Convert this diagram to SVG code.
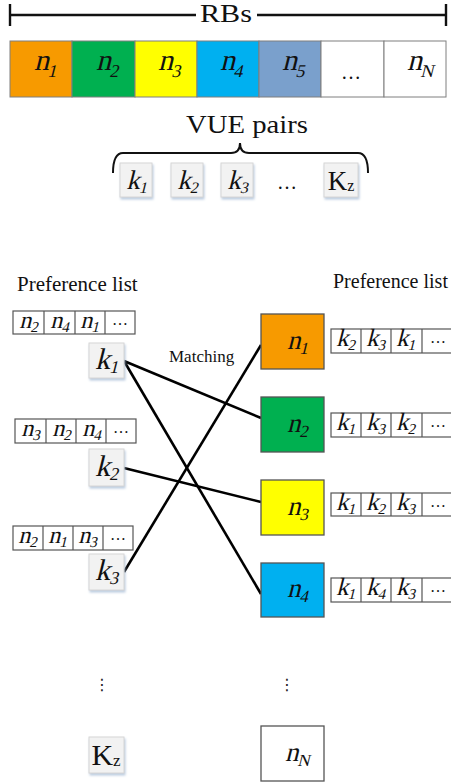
<svg xmlns="http://www.w3.org/2000/svg" width="451" height="783" viewBox="0 0 451 783">
  <defs>
    <filter id="shadow" x="-20%" y="-20%" width="150%" height="150%">
      <feDropShadow dx="1" dy="2" stdDeviation="1" flood-color="#9fb6d2" flood-opacity="0.7"/>
    </filter>
  </defs>
  <style>
    .lbl { font-family: "Liberation Serif", "Times New Roman", serif; fill: #111; }
    /* math-style labels: serif glyphs slanted by a skew transform */
    .m { font-family: "Liberation Serif", "Times New Roman", serif; fill: #111; text-anchor: middle; }
    .cell { stroke: #7f7f7f; stroke-width: 1; }
    .lst { fill: #fff; stroke: #555; stroke-width: 1.2; }
    .kbox { fill: #f2f2f2; stroke: #d6d6d6; stroke-width: 1; filter: url(#shadow); }
    .nbox { stroke: #555; stroke-width: 1.3; }
    .conn { stroke: #000; stroke-width: 2.6; fill: none; }
    .dots { font-family: "DejaVu Sans", sans-serif; fill: #222; text-anchor: middle; }
  </style>

  <!-- RB span ruler -->
  <g id="rbs-ruler" stroke="#111" stroke-width="2.4">
    <line x1="10" y1="15" x2="196" y2="15"/>
    <line x1="257" y1="15" x2="446" y2="15"/>
    <line x1="10" y1="4" x2="10" y2="26"/>
    <line x1="446" y1="4" x2="446" y2="26"/>
  </g>
  <text class="lbl" x="200" y="22" font-size="25" textLength="52" lengthAdjust="spacingAndGlyphs">RBs</text>

  <!-- resource block strip -->
  <g id="rb-strip">
    <rect class="cell" x="10" y="41" width="62" height="56" fill="#F79A00"/>
    <rect class="cell" x="72" y="41" width="63" height="56" fill="#00B050"/>
    <rect class="cell" x="135" y="41" width="62" height="56" fill="#FFFF00"/>
    <rect class="cell" x="197" y="41" width="62" height="56" fill="#00B0F0"/>
    <rect class="cell" x="259" y="41" width="62" height="56" fill="#7AA0CC"/>
    <rect class="cell" x="321" y="41" width="63" height="56" fill="#fff"/>
    <rect class="cell" x="384" y="41" width="62" height="56" fill="#fff"/>
    <text class="m" transform="translate(46 70) skewX(-14)" font-size="30">n<tspan font-size="18" dy="7">1</tspan></text>
    <text class="m" transform="translate(108 70) skewX(-14)" font-size="30">n<tspan font-size="18" dy="7">2</tspan></text>
    <text class="m" transform="translate(170 70) skewX(-14)" font-size="30">n<tspan font-size="18" dy="7">3</tspan></text>
    <text class="m" transform="translate(232 70) skewX(-14)" font-size="30">n<tspan font-size="18" dy="7">4</tspan></text>
    <text class="m" transform="translate(294 70) skewX(-14)" font-size="30">n<tspan font-size="18" dy="7">5</tspan></text>
    <text class="lbl" x="351" y="79" font-size="20" text-anchor="middle">…</text>
    <text class="m" transform="translate(421 70) skewX(-14)" font-size="30">n<tspan font-size="18" dy="7">N</tspan></text>
  </g>

  <!-- VUE pairs brace -->
  <g id="vue-pairs">
    <text class="lbl" x="186" y="133" font-size="25" textLength="122" lengthAdjust="spacingAndGlyphs">VUE pairs</text>
    <path d="M113,173 Q113,153 123,153 L231,153 Q240,153 240,143 Q240,153 249,153 L358,153 Q368,153 368,173" stroke="#111" stroke-width="2" fill="none"/>
    <rect class="kbox" x="120" y="163" width="32" height="34"/>
    <rect class="kbox" x="171" y="163" width="32" height="34"/>
    <rect class="kbox" x="221" y="163" width="32" height="34"/>
    <rect class="kbox" x="324" y="163" width="34" height="34"/>
    <text class="m" transform="translate(137 189) skewX(-14)" font-size="27">k<tspan font-size="16" dy="4">1</tspan></text>
    <text class="m" transform="translate(188 189) skewX(-14)" font-size="27">k<tspan font-size="16" dy="4">2</tspan></text>
    <text class="m" transform="translate(238 189) skewX(-14)" font-size="27">k<tspan font-size="16" dy="4">3</tspan></text>
    <text class="lbl" x="287" y="189" font-size="20" text-anchor="middle">…</text>
    <text class="lbl" x="341" y="190" font-size="27" text-anchor="middle">K<tspan font-size="16" dy="1">z</tspan></text>
  </g>

  <!-- section headings -->
  <text class="lbl" x="17" y="291" font-size="21">Preference list</text>
  <text class="lbl" x="333" y="288" font-size="20">Preference list</text>
  <text class="lbl" x="169" y="362" font-size="17">Matching</text>

  <!-- matching connectors -->
  <g id="connectors">
    <line class="conn" x1="124" y1="361" x2="261" y2="418"/>
    <line class="conn" x1="124" y1="361" x2="261" y2="594"/>
    <line class="conn" x1="124" y1="468" x2="261" y2="502"/>
    <line class="conn" x1="124" y1="572" x2="261" y2="345"/>
  </g>

  <!-- VUE pair k1 with its preference list -->
  <g id="k1">
    <rect class="lst" x="13" y="311" width="122" height="23"/>
    <path d="M44,311V334M75,311V334M105,311V334" stroke="#555" stroke-width="1.2"/>
    <text class="m" transform="translate(29 328) skewX(-14)" font-size="24">n<tspan font-size="15" dy="4">2</tspan></text>
    <text class="m" transform="translate(60 328) skewX(-14)" font-size="24">n<tspan font-size="15" dy="4">4</tspan></text>
    <text class="m" transform="translate(90 328) skewX(-14)" font-size="24">n<tspan font-size="15" dy="4">1</tspan></text>
    <text class="lbl" x="120" y="325" font-size="16" text-anchor="middle">…</text>
    <rect class="kbox" x="89" y="343" width="35" height="35"/>
    <text class="m" transform="translate(107 369) skewX(-14)" font-size="30">k<tspan font-size="18" dy="4">1</tspan></text>
  </g>

  <!-- VUE pair k2 -->
  <g id="k2">
    <rect class="lst" x="15" y="419" width="121" height="24"/>
    <path d="M46,419V443M76,419V443M106,419V443" stroke="#555" stroke-width="1.2"/>
    <text class="m" transform="translate(31 436) skewX(-14)" font-size="24">n<tspan font-size="15" dy="4">3</tspan></text>
    <text class="m" transform="translate(62 436) skewX(-14)" font-size="24">n<tspan font-size="15" dy="4">2</tspan></text>
    <text class="m" transform="translate(92 436) skewX(-14)" font-size="24">n<tspan font-size="15" dy="4">4</tspan></text>
    <text class="lbl" x="121" y="433" font-size="16" text-anchor="middle">…</text>
    <rect class="kbox" x="89" y="449" width="35" height="37"/>
    <text class="m" transform="translate(107 476) skewX(-14)" font-size="30">k<tspan font-size="18" dy="4">2</tspan></text>
  </g>

  <!-- VUE pair k3 -->
  <g id="k3">
    <rect class="lst" x="13" y="526" width="120" height="24"/>
    <path d="M43,526V550M73,526V550M103,526V550" stroke="#555" stroke-width="1.2"/>
    <text class="m" transform="translate(28 543) skewX(-14)" font-size="24">n<tspan font-size="15" dy="4">2</tspan></text>
    <text class="m" transform="translate(58 543) skewX(-14)" font-size="24">n<tspan font-size="15" dy="4">1</tspan></text>
    <text class="m" transform="translate(88 543) skewX(-14)" font-size="24">n<tspan font-size="15" dy="4">3</tspan></text>
    <text class="lbl" x="118" y="540" font-size="16" text-anchor="middle">…</text>
    <rect class="kbox" x="89" y="554" width="35" height="36"/>
    <text class="m" transform="translate(107 580) skewX(-14)" font-size="30">k<tspan font-size="18" dy="4">3</tspan></text>
  </g>

  <!-- VUE pair Kz -->
  <g id="kz">
    <text class="dots" x="102" y="690" font-size="16">⋮</text>
    <rect class="kbox" x="89" y="737" width="35" height="36"/>
    <text class="lbl" x="106" y="765" font-size="30" text-anchor="middle">K<tspan font-size="17" dy="1">z</tspan></text>
  </g>

  <!-- RB n1 with its preference list -->
  <g id="n1">
    <rect class="nbox" x="261" y="314" width="63" height="55" fill="#F79A00"/>
    <text class="m" transform="translate(298 349) skewX(-14)" font-size="27">n<tspan font-size="17" dy="5">1</tspan></text>
    <rect class="lst" x="331" y="329" width="125" height="24"/>
    <path d="M361,329V353M391,329V353M422,329V353" stroke="#555" stroke-width="1.2"/>
    <text class="m" transform="translate(346 346) skewX(-14)" font-size="25">k<tspan font-size="15" dy="4">2</tspan></text>
    <text class="m" transform="translate(376 346) skewX(-14)" font-size="25">k<tspan font-size="15" dy="4">3</tspan></text>
    <text class="m" transform="translate(406 346) skewX(-14)" font-size="25">k<tspan font-size="15" dy="4">1</tspan></text>
    <text class="lbl" x="438" y="343" font-size="16" text-anchor="middle">…</text>
  </g>

  <!-- RB n2 -->
  <g id="n2">
    <rect class="nbox" x="261" y="397" width="63" height="55" fill="#00B050"/>
    <text class="m" transform="translate(298 432) skewX(-14)" font-size="27">n<tspan font-size="17" dy="5">2</tspan></text>
    <rect class="lst" x="331" y="413" width="125" height="24"/>
    <path d="M361,413V437M391,413V437M422,413V437" stroke="#555" stroke-width="1.2"/>
    <text class="m" transform="translate(346 430) skewX(-14)" font-size="25">k<tspan font-size="15" dy="4">1</tspan></text>
    <text class="m" transform="translate(376 430) skewX(-14)" font-size="25">k<tspan font-size="15" dy="4">3</tspan></text>
    <text class="m" transform="translate(406 430) skewX(-14)" font-size="25">k<tspan font-size="15" dy="4">2</tspan></text>
    <text class="lbl" x="438" y="427" font-size="16" text-anchor="middle">…</text>
  </g>

  <!-- RB n3 -->
  <g id="n3">
    <rect class="nbox" x="261" y="480" width="63" height="55" fill="#FFFF00"/>
    <text class="m" transform="translate(298 515) skewX(-14)" font-size="27">n<tspan font-size="17" dy="5">3</tspan></text>
    <rect class="lst" x="331" y="493" width="125" height="23"/>
    <path d="M361,493V516M391,493V516M422,493V516" stroke="#555" stroke-width="1.2"/>
    <text class="m" transform="translate(346 510) skewX(-14)" font-size="25">k<tspan font-size="15" dy="4">1</tspan></text>
    <text class="m" transform="translate(376 510) skewX(-14)" font-size="25">k<tspan font-size="15" dy="4">2</tspan></text>
    <text class="m" transform="translate(406 510) skewX(-14)" font-size="25">k<tspan font-size="15" dy="4">3</tspan></text>
    <text class="lbl" x="438" y="507" font-size="16" text-anchor="middle">…</text>
  </g>

  <!-- RB n4 -->
  <g id="n4">
    <rect class="nbox" x="261" y="563" width="63" height="54" fill="#00B0F0"/>
    <text class="m" transform="translate(298 597) skewX(-14)" font-size="27">n<tspan font-size="17" dy="5">4</tspan></text>
    <rect class="lst" x="331" y="578" width="125" height="24"/>
    <path d="M361,578V602M391,578V602M422,578V602" stroke="#555" stroke-width="1.2"/>
    <text class="m" transform="translate(346 595) skewX(-14)" font-size="25">k<tspan font-size="15" dy="4">1</tspan></text>
    <text class="m" transform="translate(376 595) skewX(-14)" font-size="25">k<tspan font-size="15" dy="4">4</tspan></text>
    <text class="m" transform="translate(406 595) skewX(-14)" font-size="25">k<tspan font-size="15" dy="4">3</tspan></text>
    <text class="lbl" x="438" y="592" font-size="16" text-anchor="middle">…</text>
  </g>

  <!-- RB nN -->
  <g id="nN">
    <text class="dots" x="287" y="690" font-size="16">⋮</text>
    <rect class="nbox" x="261" y="726" width="63" height="55" fill="#fff"/>
    <text class="m" transform="translate(298 761) skewX(-14)" font-size="27">n<tspan font-size="17" dy="5">N</tspan></text>
  </g>
</svg>
